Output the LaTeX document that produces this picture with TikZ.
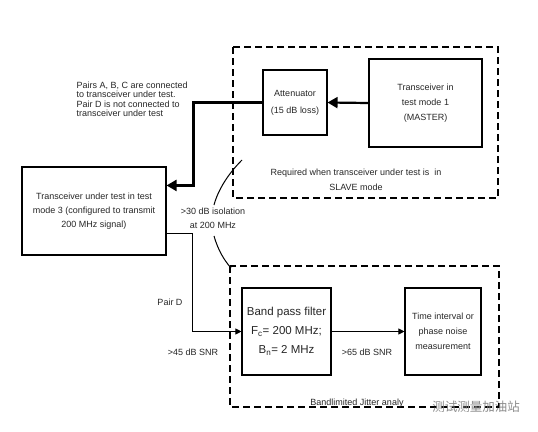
\documentclass[tikz,border=0pt]{standalone}
\usepackage{fontspec}
\setmainfont{Liberation Sans}
\newfontfamily\cjkfont{Noto Sans CJK SC}
\usetikzlibrary{arrows.meta,calc}

\begin{document}
\begin{tikzpicture}[
      x=1pt, y=-1pt, font=\fontsize{9}{9.5}\selectfont,
      blk/.style={draw, line width=1.1pt, align=center, inner sep=0pt, text=black!85},
      zone/.style={draw, line width=1.7pt, dash pattern=on 7pt off 4pt},
      bigarrow/.style={line width=2.2pt, -{Triangle[length=10pt, width=11pt]}},
      sig/.style={line width=1pt, -{Triangle[length=6pt, width=6pt]}},
      note/.style={align=center, text=black!85},
    ]
    \useasboundingbox (0,0) rectangle (538,431);

    % dashed zones
    \draw[zone] (233,47) rectangle (498,198);
    \draw[zone] (230,266) rectangle (499,407);

    \node[blk, minimum width=64pt, minimum height=65pt, font=\fontsize{9}{17}\selectfont]
      (att) at (295,102.5) {Attenuator\\(15 dB loss)};
    \node[blk, minimum width=113pt, minimum height=88pt, font=\fontsize{9}{15}\selectfont]
      (master) at (425.5,103) {Transceiver in\\test mode 1\\(MASTER)};
    \node[blk, minimum width=144pt, minimum height=88pt, font=\fontsize{9}{14}\selectfont]
      (dut) at (94,211) {Transceiver under test in test\\mode 3 (configured to transmit\\200 MHz signal)};
    \node[blk, minimum width=89pt, minimum height=87pt, font=\fontsize{11.5}{19}\selectfont]
      (bpf) at (286.5,331.5) {Band pass filter\\F\textsubscript{c}= 200 MHz;\\B\textsubscript{n}= 2 MHz};
    \node[blk, minimum width=76pt, minimum height=87pt, font=\fontsize{9}{15}\selectfont]
      (meas) at (443,331.5) {Time interval or\\phase noise\\measurement};

    \node[note, align=left, anchor=north west] (pairs) at (73,78)
      {Pairs A, B, C are connected\\to transceiver under test.\\Pair D is not connected to\\transceiver under test};
    \node[note, font=\fontsize{9}{15}\selectfont] (slave) at (356,180)
      {Required when transceiver under test is \ in\\SLAVE mode};
    \node[note, font=\fontsize{9}{14}\selectfont] (iso) at (213,218)
      {>30 dB isolation\\at 200 MHz};
    \node[note] (pairD) at (170,302) {Pair D};
    \node[note] (snr45) at (193,352) {>45 dB SNR};
    \node[note] (snr65) at (367,352) {>65 dB SNR};
    \node[note] (jit) at (357,403) {Bandlimited Jitter analy};
    \node[text=black!45, font=\cjkfont\fontsize{12.5}{14}\selectfont] (mark) at (476,407) {测试测量加油站};

    % signal paths
    \draw[bigarrow] (master.west) -- (att.east);
    \draw[bigarrow] (att.west) -| ($(dut.north east)+(27,19)$) -- ($(dut.north east)+(0,19)$);
    \draw[sig] ($(dut.east)+(0,22)$) -| ($(bpf.west)+(-49,0)$) -- (bpf.west);
    \draw[sig] (bpf.east) -- (meas.west);

    % isolation arc
    \draw[line width=1pt] (242,160) .. controls (228,174) and (218,190) .. (214,205);
    \draw[line width=1pt] (214,236) .. controls (218,250) and (224,260) .. (231,268);
  \end{tikzpicture}
\end{document}
